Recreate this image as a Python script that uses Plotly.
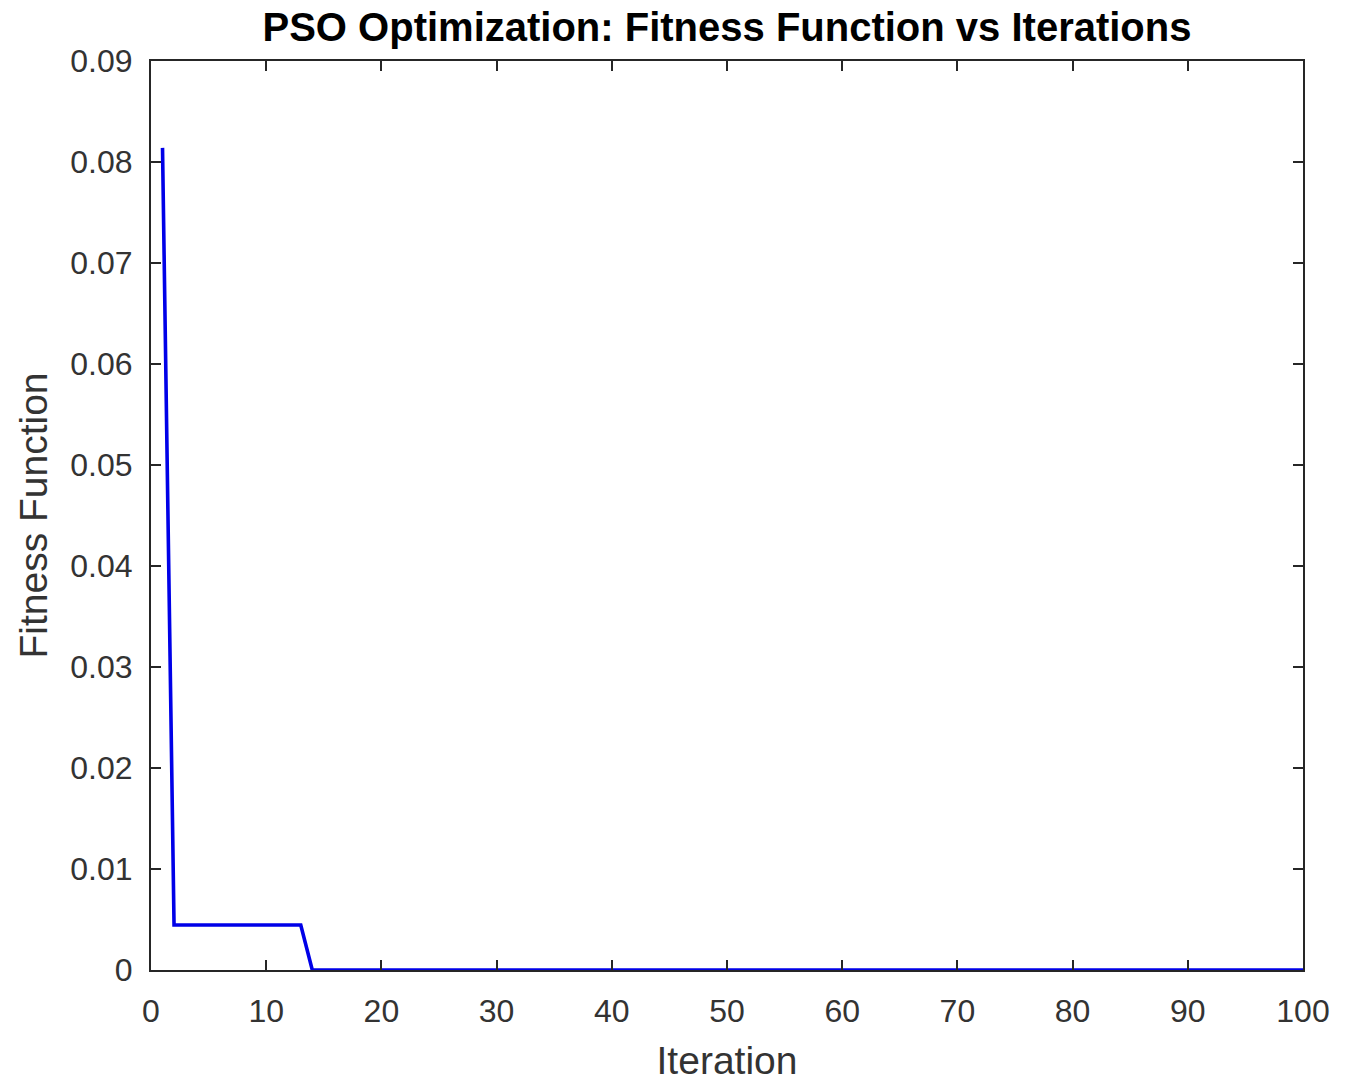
import plotly.graph_objects as go

iterations = list(range(1, 101))
fitness = (
    [0.0814]
    + [0.00446, 0.00446, 0.00446, 0.00446, 0.00446, 0.00446,
       0.00446, 0.00446, 0.00446, 0.00446, 0.00446, 0.00446]
    + [0.0] * 87
)
x_ticks = [0, 10, 20, 30, 40, 50, 60, 70, 80, 90, 100]
y_ticks = [0, 0.01, 0.02, 0.03, 0.04, 0.05, 0.06, 0.07, 0.08, 0.09]
y_tick_text = ["0", "0.01", "0.02", "0.03", "0.04", "0.05", "0.06", "0.07", "0.08", "0.09"]

fig = go.Figure()
fig.add_trace(go.Scatter(x=iterations, y=fitness, mode="lines",
                         line=dict(color="#0000E8", width=3.6), showlegend=False))

font_family = "Liberation Sans, Arial, sans-serif"
axis_common = dict(showline=True, linecolor="#262626", linewidth=2, mirror="ticks",
                   ticks="inside", ticklen=10, tickwidth=1.5, tickcolor="#262626",
                   showgrid=False, zeroline=False, automargin=False,
                   tickfont=dict(family=font_family, size=32, color="#333333"))

fig.update_xaxes(range=[0, 100], tickvals=x_ticks, ticklabelstandoff=12,
                 title=dict(text="Iteration",
                            font=dict(family=font_family, size=39, color="#333333"), standoff=19),
                 **axis_common)
fig.update_yaxes(range=[0, 0.09], tickvals=y_ticks, ticktext=y_tick_text, ticklabelstandoff=10,
                 title=dict(text="Fitness Function",
                            font=dict(family=font_family, size=39, color="#333333"), standoff=11),
                 **axis_common)

fig.update_layout(
    width=1350, height=1082,
    margin=dict(l=151, r=47, t=61, b=112),
    paper_bgcolor="white", plot_bgcolor="white",
    title=dict(text="<b>PSO Optimization: Fitness Function vs Iterations</b>",
               xref="paper", x=0.5, xanchor="center", y=0.975, yanchor="middle",
               font=dict(family=font_family, size=40, color="black")),
)

fig.write_html("out.html")
